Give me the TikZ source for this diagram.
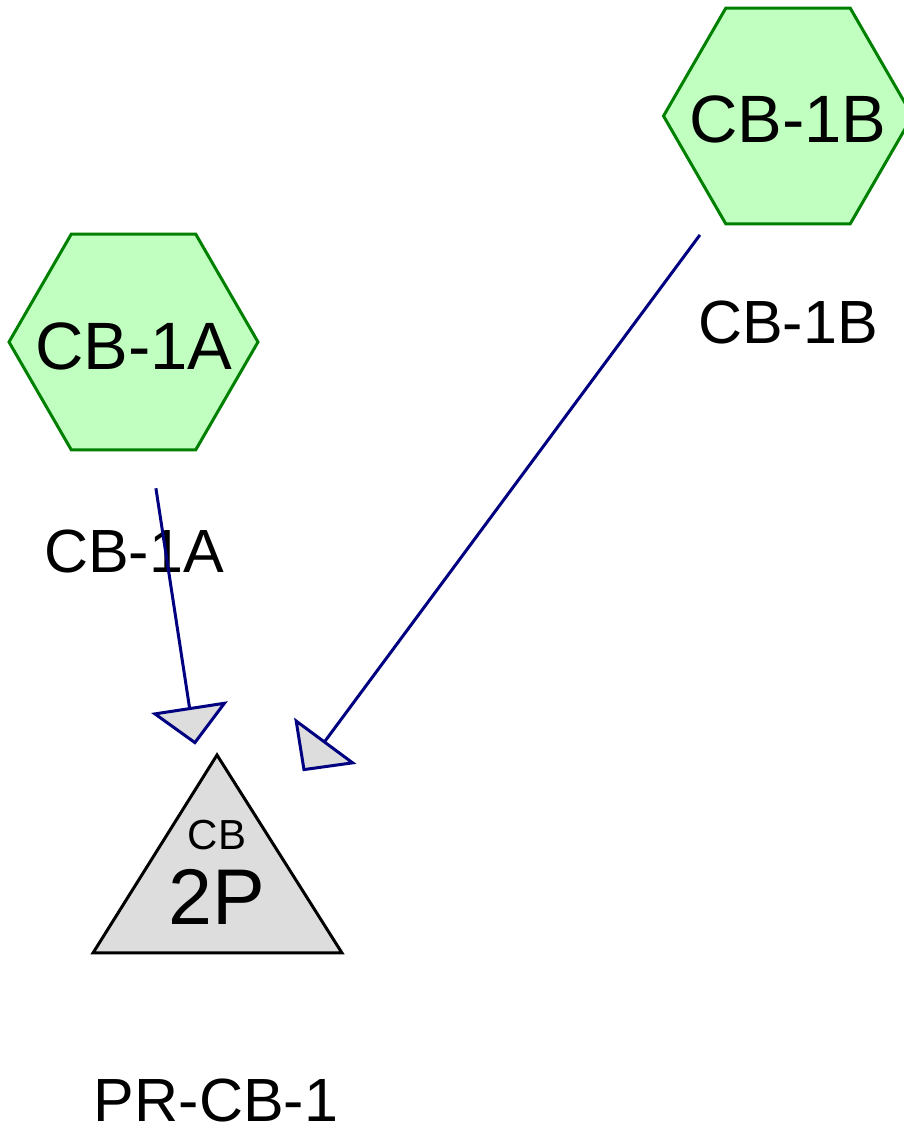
\documentclass[tikz,border=0pt]{standalone}
\usepackage{fontspec}
\setmainfont{Liberation Sans}
\usetikzlibrary{arrows.meta,shapes.geometric}
\definecolor{hexfill}{HTML}{C0FFC0}
\definecolor{hexline}{HTML}{008000}
\definecolor{navyline}{HTML}{000080}
\definecolor{grayfill}{HTML}{DDDDDD}
\begin{document}
\begin{tikzpicture}[x=1pt,y=1pt,
  hexnode/.style={regular polygon, regular polygon sides=6, minimum size=249pt, inner sep=0pt, outer sep=0pt, draw=hexline, fill=hexfill, line width=3pt},
  hextext/.style={font=\fontsize{67}{67}\selectfont, anchor=base, inner sep=0pt},
  lbl/.style={font=\fontsize{61}{61}\selectfont, anchor=base, inner sep=0pt},
  trishape/.style={draw=black, fill=grayfill, line width=3pt, line join=miter},
  conn/.style={draw=navyline, line width=3pt, -{Triangle[length=38pt,width=77pt,fill=grayfill]}, shorten <=148pt, shorten >=144pt}]
\useasboundingbox (0,0) rectangle (904,1130);
% hexagons
\node[hexnode] (a) at (133.5,788) {};
\node[hextext] (atext) at (134,760) {CB-1A};
\node[hexnode] (b) at (788,1014) {};
\node[hextext] (btext) at (788,987) {CB-1B};
% labels
\node[lbl] (alabel) at (134,557) {CB-1A};
\node[lbl] (blabel) at (788,786) {CB-1B};
% triangle
\draw[trishape] (217,375) -- (93,177) -- (342,177) -- cycle;
\coordinate (t) at (217,243);
\node[font=\fontsize{42}{42}\selectfont, anchor=base, inner sep=0pt] (cb) at (217,280) {CB};
\node[font=\fontsize{79}{79}\selectfont, anchor=base, inner sep=0pt] (twop) at (217,205) {2P};
\node[lbl] (pr) at (216,9) {PR-CB-1};
% connectors
\draw[conn] (a.center) -- (t);
\draw[conn] (b.center) -- (t);
\end{tikzpicture}
\end{document}
